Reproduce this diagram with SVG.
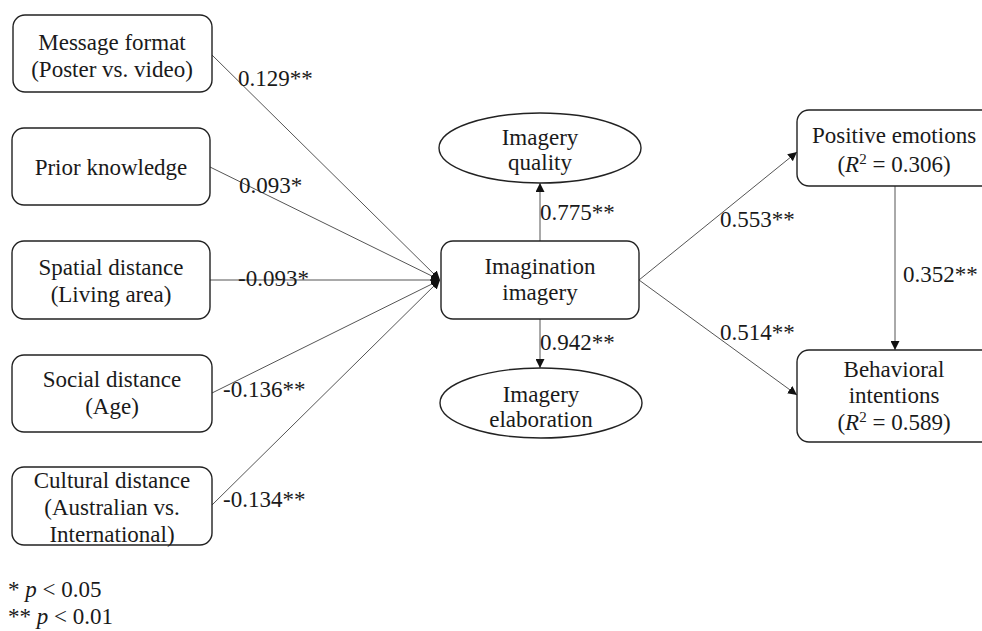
<svg xmlns="http://www.w3.org/2000/svg" width="982" height="631" viewBox="0 0 982 631">
<defs>
<style>
text{font-family:"Liberation Serif","Times New Roman",serif;font-size:23px;fill:#1a1a1a}
.c{text-anchor:middle}
.box{fill:#fff;stroke:#222;stroke-width:1.4}
.ln{stroke:#555;stroke-width:1;fill:none}
.it{font-style:italic}
.sup{font-size:15px}
</style>
<marker id="ah" viewBox="0 0 10 10" refX="10" refY="5" markerWidth="9" markerHeight="9" markerUnits="userSpaceOnUse" orient="auto">
<path d="M0,0 L10,5 L0,10 z" fill="#111"/>
</marker>
</defs>
<rect width="982" height="631" fill="#fff"/>
<g id="connectors">
<line class="ln" x1="212" y1="55" x2="440" y2="280" marker-end="url(#ah)"/>
<line class="ln" x1="210" y1="167" x2="440" y2="280" marker-end="url(#ah)"/>
<line class="ln" x1="210" y1="280" x2="440" y2="280" marker-end="url(#ah)"/>
<line class="ln" x1="212" y1="393" x2="440" y2="280" marker-end="url(#ah)"/>
<line class="ln" x1="212" y1="505" x2="440" y2="280" marker-end="url(#ah)"/>
<line class="ln" x1="540" y1="241" x2="540" y2="183" marker-end="url(#ah)"/>
<line class="ln" x1="540" y1="319" x2="540" y2="368" marker-end="url(#ah)"/>
<line class="ln" x1="639" y1="280" x2="797" y2="152" marker-end="url(#ah)"/>
<line class="ln" x1="639" y1="280" x2="797" y2="395" marker-end="url(#ah)"/>
<line class="ln" x1="895" y1="186" x2="895" y2="350" marker-end="url(#ah)"/>
<text x="238" y="86">0.129**</text>
<text x="239" y="193">0.093*</text>
<text x="238" y="286">-0.093*</text>
<text x="223" y="397">-0.136**</text>
<text x="223" y="507">-0.134**</text>
<text x="540" y="220">0.775**</text>
<text x="540" y="350">0.942**</text>
<text x="720" y="227">0.553**</text>
<text x="720" y="340">0.514**</text>
<text x="903" y="282">0.352**</text>
</g>
<g id="message-format">
<rect class="box" x="13" y="15" width="199" height="77" rx="12"/>
<text class="c" x="112" y="50">Message format</text>
<text class="c" x="112" y="77">(Poster vs. video)</text>
</g>
<g id="prior-knowledge">
<rect class="box" x="12" y="128" width="198" height="77" rx="12"/>
<text class="c" x="111" y="175">Prior knowledge</text>
</g>
<g id="spatial-distance">
<rect class="box" x="12" y="241" width="198" height="78" rx="12"/>
<text class="c" x="111" y="275">Spatial distance</text>
<text class="c" x="111" y="302">(Living area)</text>
</g>
<g id="social-distance">
<rect class="box" x="12" y="355" width="200" height="77" rx="12"/>
<text class="c" x="112" y="387">Social distance</text>
<text class="c" x="112" y="414">(Age)</text>
</g>
<g id="cultural-distance">
<rect class="box" x="12" y="467" width="200" height="78" rx="12"/>
<text class="c" x="112" y="488">Cultural distance</text>
<text class="c" x="112" y="515">(Australian vs.</text>
<text class="c" x="112" y="542">International)</text>
</g>
<g id="imagination-imagery">
<rect class="box" x="441" y="241" width="198" height="78" rx="12"/>
<text class="c" x="540" y="274">Imagination</text>
<text class="c" x="540" y="300">imagery</text>
</g>
<g id="imagery-quality">
<ellipse class="box" cx="540" cy="148" rx="101" ry="35"/>
<text class="c" x="540" y="145">Imagery</text>
<text class="c" x="540" y="170">quality</text>
</g>
<g id="imagery-elaboration">
<ellipse class="box" cx="541" cy="403" rx="101" ry="35"/>
<text class="c" x="541" y="402">Imagery</text>
<text class="c" x="541" y="427">elaboration</text>
</g>
<g id="positive-emotions">
<rect class="box" x="797" y="110" width="200" height="76" rx="12"/>
<text class="c" x="894" y="143">Positive emotions</text>
<text class="c" x="894" y="172">(<tspan class="it">R</tspan><tspan class="sup" dy="-8">2</tspan><tspan dy="8"> = 0.306)</tspan></text>
</g>
<g id="behavioral-intentions">
<rect class="box" x="797" y="350" width="200" height="92" rx="12"/>
<text class="c" x="894" y="377">Behavioral</text>
<text class="c" x="894" y="403">intentions</text>
<text class="c" x="894" y="430">(<tspan class="it">R</tspan><tspan class="sup" dy="-8">2</tspan><tspan dy="8"> = 0.589)</tspan></text>
</g>
<g id="legend">
<text x="8" y="597">* <tspan class="it">p</tspan> &lt; 0.05</text>
<text x="8" y="624">** <tspan class="it">p</tspan> &lt; 0.01</text>
</g>
</svg>
